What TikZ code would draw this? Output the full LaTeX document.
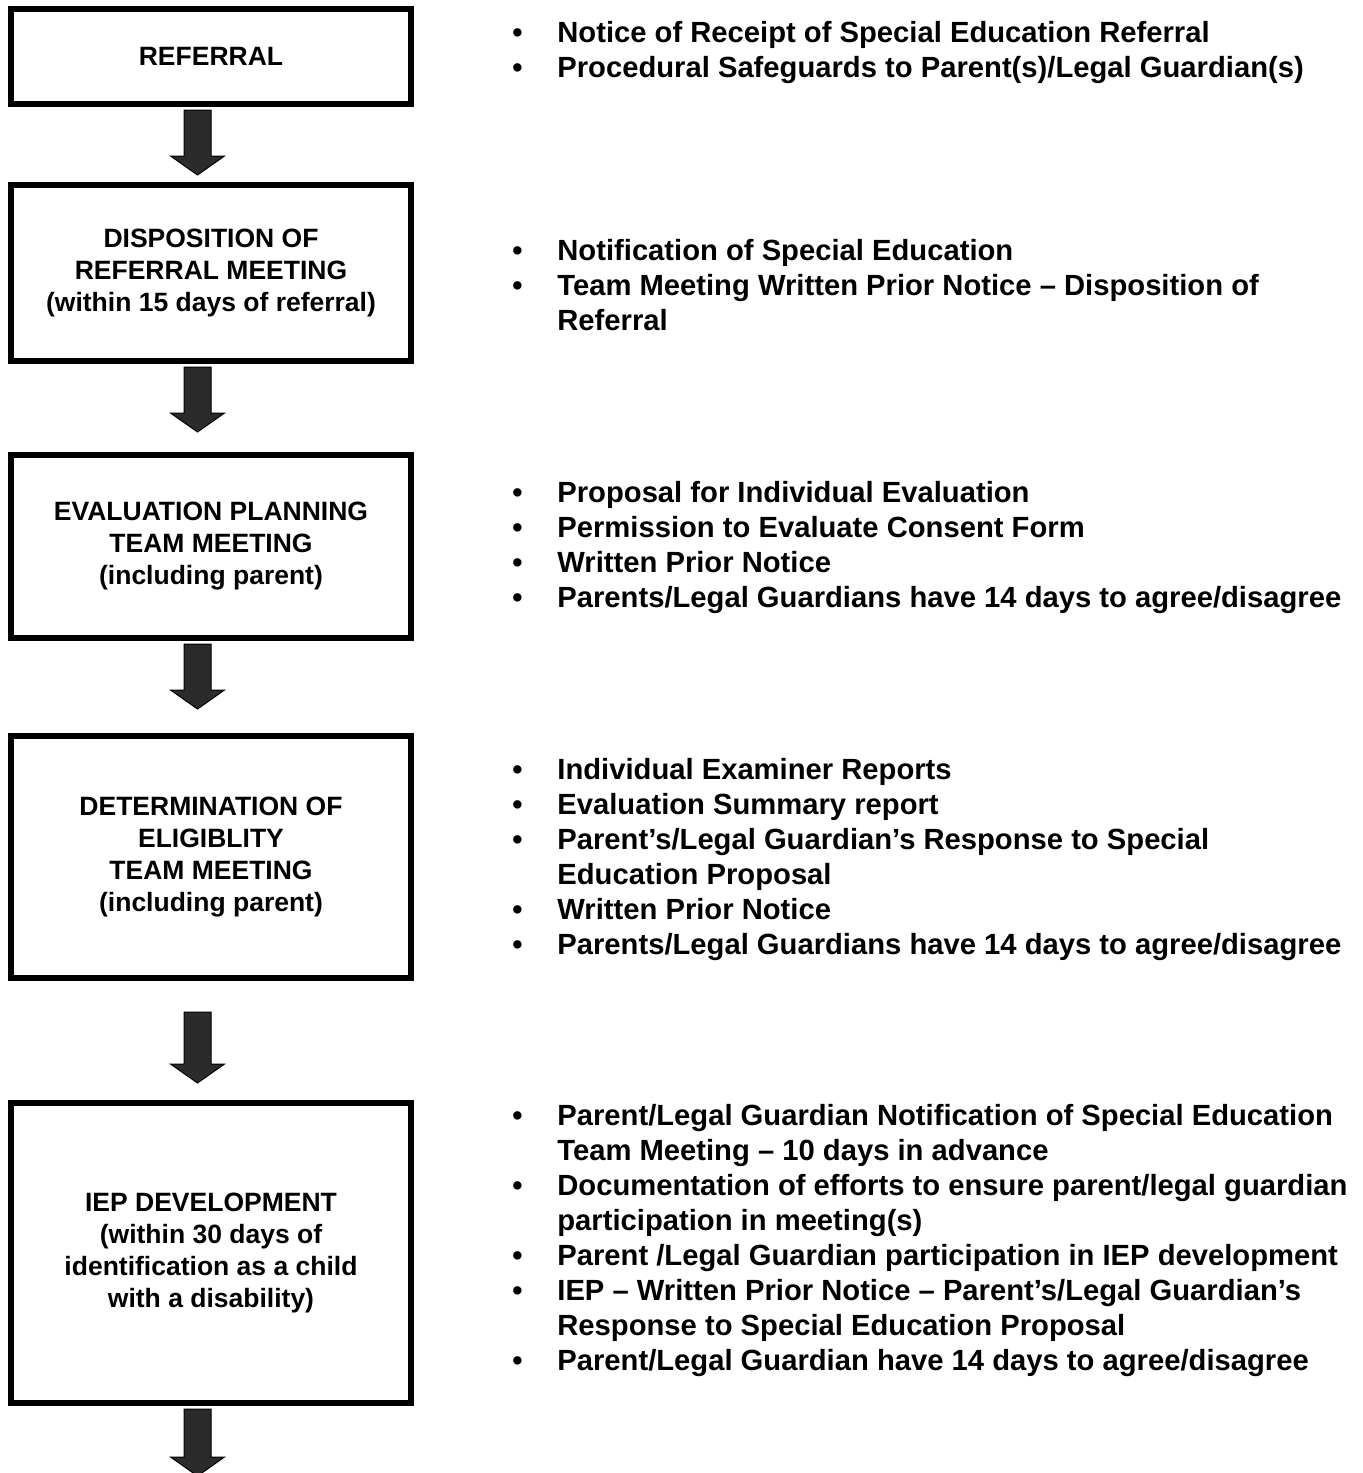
\documentclass[tikz,border=0pt]{standalone}
\usepackage{fontspec}
\setmainfont{Liberation Sans}
\usetikzlibrary{positioning}

% block arrow from a start point down to a tip
\newcommand{\blockarrow}[2]{%
  \filldraw[flowarrow] ([xshift=-6.75pt,yshift=-1.5pt]#1) -- ([xshift=-6.75pt,yshift=9.5pt]#2)
    -- ([xshift=-13.5pt,yshift=9.5pt]#2) -- (#2) -- ([xshift=13.5pt,yshift=9.5pt]#2)
    -- ([xshift=6.75pt,yshift=9.5pt]#2) -- ([xshift=6.75pt,yshift=-1.5pt]#1) -- cycle;}

\begin{document}
\begin{tikzpicture}[x=0.5pt,y=-0.5pt,
    stagebox/.style={draw=black,line width=3pt,fill=white,minimum width=200pt,
                     align=center,inner sep=0pt,
                     font=\fontsize{13.25}{16}\selectfont\bfseries},
    notelist/.style={anchor=west,inner sep=0pt,
                     font=\fontsize{14.6}{17.5}\selectfont\bfseries}]
  \tikzstyle{flowarrow}=[draw=black,line width=0.5pt,fill=black!83]

  \useasboundingbox (0,0) rectangle (1363,1473);

  \node[stagebox,minimum height=47.5pt] (ref)  at (211,56.5)  {\raisebox{-3.5pt}{REFERRAL}};
  \node[stagebox,minimum height=88pt]   (disp) at (211,273)   {DISPOSITION OF\\REFERRAL MEETING\\(within 15 days of referral)};
  \node[stagebox,minimum height=91.5pt] (eval) at (211,546.5) {EVALUATION PLANNING\\TEAM MEETING\\(including parent)};
  \node[stagebox,minimum height=121pt]  (elig) at (211,857)   {DETERMINATION OF\\ELIGIBLITY\\TEAM MEETING\\(including parent)};
  \node[stagebox,minimum height=150pt]  (iep)  at (211,1253)  {IEP DEVELOPMENT\\(within 30 days of\\identification as a child\\with a disability)};

  \node[notelist] (n1) at (512,53) {\begin{tabular}{@{}p{22.5pt}@{}l@{}}
    \textbullet & Notice of Receipt of Special Education Referral\\
    \textbullet & Procedural Safeguards to Parent(s)/Legal Guardian(s)
  \end{tabular}};
  \node[notelist] (n2) at (512,288) {\begin{tabular}{@{}p{22.5pt}@{}l@{}}
    \textbullet & Notification of Special Education\\
    \textbullet & Team Meeting Written Prior Notice – Disposition of\\
                & Referral
  \end{tabular}};
  \node[notelist] (n3) at (512,547.5) {\begin{tabular}{@{}p{22.5pt}@{}l@{}}
    \textbullet & Proposal for Individual Evaluation\\
    \textbullet & Permission to Evaluate Consent Form\\
    \textbullet & Written Prior Notice\\
    \textbullet & Parents/Legal Guardians have 14 days to agree/disagree
  \end{tabular}};
  \node[notelist] (n4) at (512,860) {\begin{tabular}{@{}p{22.5pt}@{}l@{}}
    \textbullet & Individual Examiner Reports\\
    \textbullet & Evaluation Summary report\\
    \textbullet & Parent’s/Legal Guardian’s Response to Special\\
                & Education Proposal\\
    \textbullet & Written Prior Notice\\
    \textbullet & Parents/Legal Guardians have 14 days to agree/disagree
  \end{tabular}};
  \node[notelist] (n5) at (512,1241) {\begin{tabular}{@{}p{22.5pt}@{}l@{}}
    \textbullet & Parent/Legal Guardian Notification of Special Education\\
                & Team Meeting – 10 days in advance\\
    \textbullet & Documentation of efforts to ensure parent/legal guardian\\
                & participation in meeting(s)\\
    \textbullet & Parent /Legal Guardian participation in IEP development\\
    \textbullet & IEP – Written Prior Notice – Parent’s/Legal Guardian’s\\
                & Response to Special Education Proposal\\
    \textbullet & Parent/Legal Guardian have 14 days to agree/disagree
  \end{tabular}};

  % arrow ends
  \coordinate (ax) at (197.5,0);
  \coordinate (s1) at (ref.south -| ax);  \coordinate (t1) at (197.5,175);
  \coordinate (s2) at (disp.south -| ax); \coordinate (t2) at (197.5,432);
  \coordinate (s3) at (eval.south -| ax); \coordinate (t3) at (197.5,709);
  \coordinate (s4) at (197.5,1009);       \coordinate (t4) at (197.5,1083);
  \coordinate (s5) at (iep.south -| ax);  \coordinate (t5) at (197.5,1476);

  \blockarrow{s1}{t1}
  \blockarrow{s2}{t2}
  \blockarrow{s3}{t3}
  \blockarrow{s4}{t4}
  \blockarrow{s5}{t5}
\end{tikzpicture}
\end{document}
